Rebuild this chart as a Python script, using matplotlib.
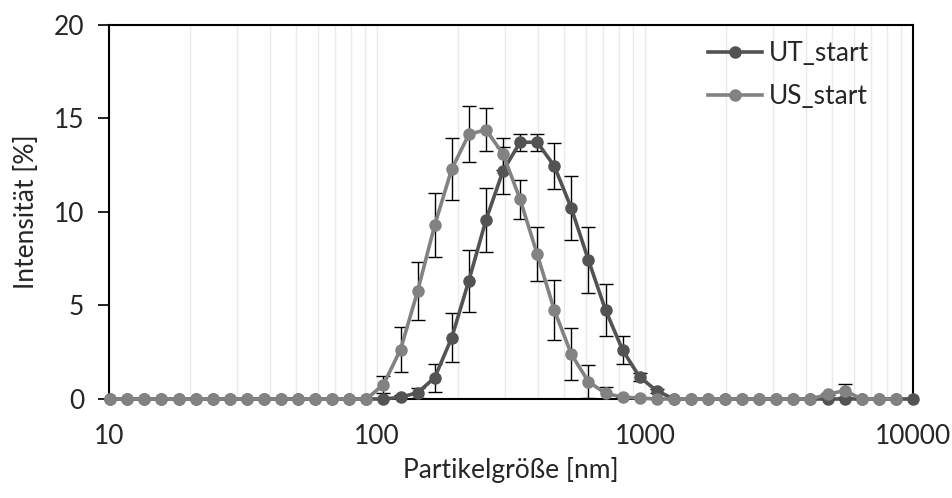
import numpy as np
import matplotlib
matplotlib.use("Agg")
from matplotlib import pyplot as plt
from matplotlib.ticker import NullFormatter, LogLocator

# Partikelgroesse (Zetasizer bins) [nm]
sizes = [10.1, 11.7, 13.54, 15.69, 18.17, 21.04, 24.36, 28.21, 32.67, 37.84,
         43.82, 50.75, 58.77, 68.06, 78.82, 91.28, 105.7, 122.4, 141.8, 164.2,
         190.1, 220.2, 255.0, 295.3, 342.0, 396.1, 458.7, 531.2, 615.1, 712.4,
         825.0, 955.4, 1106, 1281, 1484, 1718, 1990, 2305, 2669, 3091,
         3580, 4145, 4801, 5560, 6439, 7456, 8635, 10000]

# UT_start intensity [%] and std
ut_vals = [0, 0, 0, 0, 0, 0, 0, 0, 0, 0,
           0, 0, 0, 0, 0, 0, 0, 0.09, 0.34, 1.14,
           3.28, 6.33, 9.57, 12.2, 13.73, 13.73, 12.46, 10.2, 7.43, 4.76,
           2.62, 1.17, 0.44, 0, 0, 0, 0, 0, 0, 0,
           0, 0, 0, 0, 0, 0, 0, 0]
ut_err = [0, 0, 0, 0, 0, 0, 0, 0, 0, 0,
          0, 0, 0, 0, 0, 0, 0, 0.1, 0.27, 0.74,
          1.31, 1.66, 1.7, 1.25, 0.45, 0.45, 1.23, 1.72, 1.76, 1.4,
          0.75, 0.2, 0.1, 0, 0, 0, 0, 0, 0, 0,
          0, 0, 0, 0, 0, 0, 0, 0]

# US_start intensity [%] and std (no value at 10000)
us_vals = [0, 0, 0, 0, 0, 0, 0, 0, 0, 0,
           0, 0, 0, 0, 0, 0, 0.77, 2.64, 5.77, 9.3,
           12.3, 14.15, 14.4, 13.1, 10.68, 7.74, 4.76, 2.39, 0.93, 0.3,
           0.1, 0.05, 0, 0, 0, 0, 0, 0, 0, 0,
           0, 0, 0.25, 0.45, 0, 0, 0]
us_err = [0, 0, 0, 0, 0, 0, 0, 0, 0, 0,
          0, 0, 0, 0, 0, 0, 0.46, 1.2, 1.56, 1.7,
          1.65, 1.5, 1.15, 0.85, 1.05, 1.44, 1.6, 1.39, 0.89, 0.36,
          0, 0, 0, 0, 0, 0, 0, 0, 0, 0,
          0, 0, 0.05, 0.35, 0, 0, 0]

plt.rcParams["font.family"] = ["Lato", "DejaVu Sans"]
txt_color = "#262626"
fs = 19

fig = plt.figure(figsize=(9.52, 4.98), dpi=100)
ax = fig.add_axes([0.1145, 0.1988, 0.8445, 0.751])

ut_color = "#535353"
us_color = "#828282"

# error bars below the lines
ax.errorbar(sizes, ut_vals, yerr=ut_err, fmt="none", ecolor="black",
            elinewidth=1.0, capsize=5, capthick=1.0, zorder=2)
ax.errorbar(sizes[:len(us_vals)], us_vals, yerr=us_err, fmt="none", ecolor="black",
            elinewidth=1.0, capsize=5, capthick=1.0, zorder=2)

ax.plot(sizes, ut_vals, color=ut_color, lw=2.6, marker="o", ms=8,
        label="UT_start", zorder=3, clip_on=False)
ax.plot(sizes[:len(us_vals)], us_vals, color=us_color, lw=2.6, marker="o", ms=8,
        label="US_start", zorder=4, clip_on=False)

ax.set_xscale("log")
ax.set_xlim(10, 10000)
ax.set_ylim(0, 20)

# light vertical gridlines at every log step
ax.xaxis.set_minor_locator(LogLocator(base=10, subs=np.arange(2, 10)))
ax.xaxis.set_minor_formatter(NullFormatter())
ax.grid(True, which="both", axis="x", color="#eaeaea", lw=1.0, zorder=0)
ax.set_axisbelow(True)

ax.set_xticks([10, 100, 1000, 10000])
ax.set_xticklabels(["10", "100", "1000", "10000"])
ax.set_yticks([0, 5, 10, 15, 20])
ax.tick_params(axis="x", which="both", length=0, labelsize=fs, pad=18, labelcolor=txt_color)
ax.tick_params(axis="y", length=8, width=1.2, labelsize=fs, pad=10, colors="black",
               labelcolor=txt_color)

for sp in ax.spines.values():
    sp.set_color("black")
    sp.set_linewidth(1.5)
    sp.set_zorder(2.5)

ax.set_xlabel("Partikelgröße [nm]", fontsize=fs, color=txt_color, labelpad=6)
ax.set_ylabel("Intensität [%]", fontsize=fs, color=txt_color, labelpad=10)

leg = ax.legend(loc="upper left", bbox_to_anchor=(0.725, 1.0), frameon=False,
                fontsize=fs, handlelength=2.05, handletextpad=0.25,
                borderaxespad=0.2, labelspacing=0.7)
for t in leg.get_texts():
    t.set_color(txt_color)

fig.savefig("out.png", dpi=100)
